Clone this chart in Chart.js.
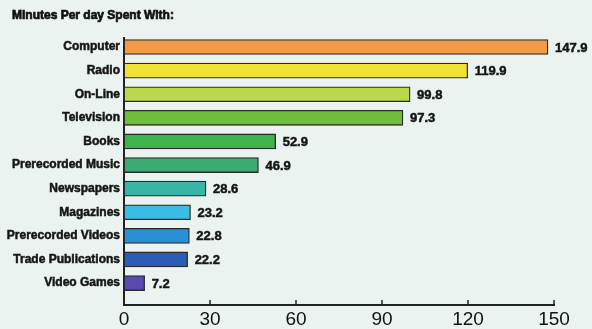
<!DOCTYPE html>
<html><head><meta charset="utf-8">
<script src="https://cdn.jsdelivr.net/npm/chart.js@4.4.0/dist/chart.umd.min.js"></script>
<style>html,body{margin:0;padding:0;background:#EAF3EF;}#wrap{width:592px;height:329px;}</style>
</head><body><div id="wrap"><canvas id="c" width="592" height="329"></canvas></div>
<script>
const titleText = 'Minutes Per day Spent With:';
const categories = ['Computer','Radio','On-Line','Television','Books','Prerecorded Music','Newspapers','Magazines','Prerecorded Videos','Trade Publications','Video Games'];
const minutes = [147.9,119.9,99.8,97.3,52.9,46.9,28.6,23.2,22.8,22.2,7.2];
const valueLabels = ['147.9','119.9','99.8','97.3','52.9','46.9','28.6','23.2','22.8','22.2','7.2'];
const xTicks = [0,30,60,90,120,150];
const barColors = ['#F29A45','#F1E132','#BAD84C','#6EBE3A','#40B34B','#3CAB72','#37B5A6','#3ABCE4','#2A90D6','#2B5DB6','#5A4AAE'];

const extrasPlugin = {
  id:'extras',
  afterDraw(chart){
    const ctx = chart.ctx; const meta = chart.getDatasetMeta(0);
    ctx.save();
    ctx.font = 'bold 12px "Liberation Sans", Arial, sans-serif';
    ctx.fillStyle = '#111'; ctx.strokeStyle = '#111'; ctx.lineWidth = 0.7;
    ctx.textBaseline = 'middle'; ctx.textAlign = 'left';
    ctx.fillText(titleText, 12, 16); ctx.strokeText(titleText, 12, 16);
    ctx.font = 'bold 13px "Liberation Sans", Arial, sans-serif';
    ctx.fillStyle = '#151515'; ctx.strokeStyle = '#151515'; ctx.lineWidth = 0.5;
    meta.data.forEach((el,i)=>{ ctx.fillText(valueLabels[i], el.x + 7, el.y + 1); ctx.strokeText(valueLabels[i], el.x + 7, el.y + 1); });
    const xs = chart.scales.x; const y = chart.chartArea.bottom;
    ctx.strokeStyle = '#222'; ctx.lineWidth = 1.5;
    xTicks.forEach(v=>{ if(v===0) return; const px = xs.getPixelForValue(v); ctx.beginPath(); ctx.moveTo(px,y); ctx.lineTo(px,y-5); ctx.stroke(); });
    ctx.restore();
  }
};

new Chart(document.getElementById('c'), {
  type:'bar',
  data:{ datasets:[{
    data: categories.map((c,i)=>({x:minutes[i], y:i})),
    backgroundColor: barColors,
    borderColor:'#2a2a2a', borderWidth:1.3, borderSkipped:false,
    barThickness:15
  }]},
  options:{
    indexAxis:'y', responsive:false, animation:false,
    layout:{padding:{left:0,right:38,top:37.6,bottom:0}},
    plugins:{ legend:{display:false}, tooltip:{enabled:false}, title:{display:false} },
    scales:{
      y:{ type:'linear', reverse:true, min:-0.4, max:10.93, bounds:'data', offset:false,
        afterBuildTicks(s){ s.ticks = categories.map((c,i)=>({value:i})); },
        afterFit(s){ s.width = 124; },
        grid:{display:false, drawTicks:false, offset:false},
        border:{display:true, color:'#222', width:2},
        ticks:{ callback:(v)=>categories[v], color:'#151515', padding:4,
          textStrokeColor:'#151515', textStrokeWidth:0.5,
          font:{family:'"Liberation Sans", Arial, sans-serif', size:12, weight:'bold'} }
      },
      x:{ type:'linear', min:0, max:150, bounds:'data', offset:false,
        afterBuildTicks(s){ s.ticks = xTicks.map(v=>({value:v})); },
        afterFit(s){ s.height = 24; },
        grid:{display:false, drawTicks:false},
        border:{display:true, color:'#222', width:2},
        ticks:{ color:'#111', padding:3, maxRotation:0,
          font:{family:'"Liberation Sans", Arial, sans-serif', size:19} }
      }
    }
  },
  plugins:[extrasPlugin]
});
</script></body></html>
